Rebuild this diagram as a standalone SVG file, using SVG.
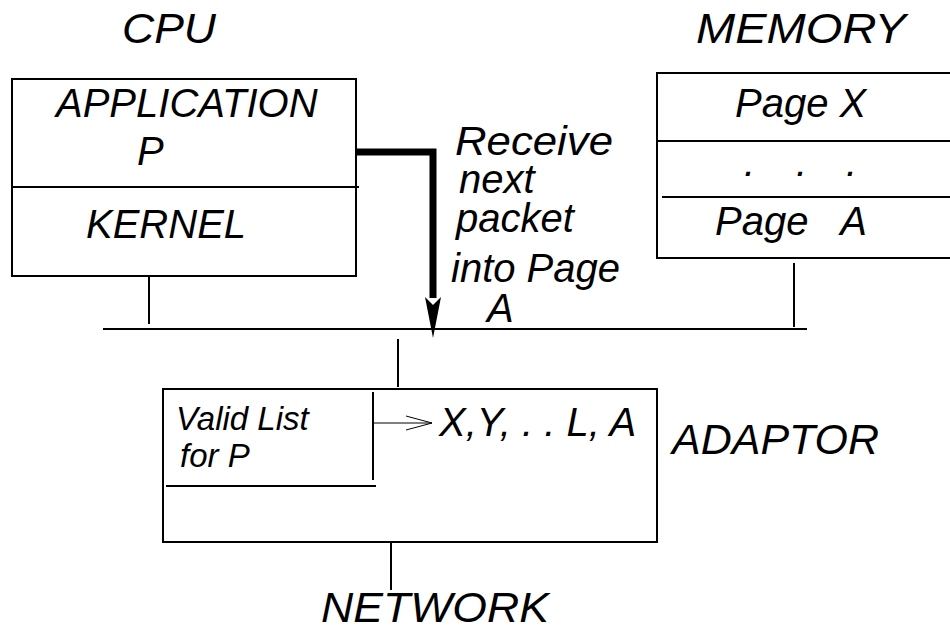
<svg xmlns="http://www.w3.org/2000/svg" width="950" height="630" viewBox="0 0 950 630">
  <style>
    .t { font-family: "Liberation Sans", Arial, sans-serif; font-style: italic; fill: #000; }
    .big { font-size: 43px; }
    .mid { font-size: 40px; }
    .sm { font-size: 33px; }
    .ln { stroke: #000; stroke-width: 2; fill: none; }
    .thin { stroke: #000; stroke-width: 1; fill: none; }
  </style>
  <rect width="950" height="630" fill="#fff"/>

  <!-- headings -->
  <text class="t big" x="122" y="43" textLength="94" lengthAdjust="spacingAndGlyphs">CPU</text>
  <text class="t big" x="696" y="43" textLength="210" lengthAdjust="spacingAndGlyphs">MEMORY</text>

  <g id="cpu">
    <rect class="ln" x="12" y="79" width="344" height="197"/>
    <line class="ln" x1="12" y1="187" x2="359" y2="187"/>
    <text class="t mid" x="56" y="117">APPLICATION</text>
    <text class="t mid" x="137" y="165">P</text>
    <text class="t mid" x="86" y="238">KERNEL</text>
  </g>

  <g id="memory">
    <path class="ln" d="M950,73 H657 V258 H950"/>
    <line class="ln" x1="657" y1="141" x2="950" y2="141"/>
    <line class="ln" x1="662" y1="197" x2="950" y2="197"/>
    <text class="t mid" x="735" y="117">Page X</text>
    <text class="t mid" x="744" y="176">.</text>
    <text class="t mid" x="796" y="176">.</text>
    <text class="t mid" x="846" y="176">.</text>
    <text class="t mid" x="715" y="235" xml:space="preserve">Page   A</text>
  </g>

  <g id="bus">
    <line class="ln" x1="103" y1="329" x2="807" y2="329"/>
  </g>

  <g id="adaptor">
    <rect class="ln" x="163" y="389" width="494" height="153"/>
    <line class="ln" x1="373" y1="392" x2="373" y2="480"/>
    <line class="ln" x1="166" y1="486" x2="376" y2="486"/>
    <text class="t sm" x="176" y="430">Valid List</text>
    <text class="t sm" x="180" y="467">for P</text>
    <text class="t mid" x="439" y="436">X,Y, . . L, A</text>
  </g>

  <text class="t big" x="672" y="454">ADAPTOR</text>
  <text class="t big" x="321" y="622" textLength="228" lengthAdjust="spacingAndGlyphs">NETWORK</text>

  <!-- label of the receive request -->
  <g id="receive-label">
    <text class="t mid" x="455" y="155" textLength="158" lengthAdjust="spacingAndGlyphs">Receive</text>
    <text class="t mid" x="459" y="193">next</text>
    <text class="t mid" x="456" y="232">packet</text>
    <text class="t mid" x="451" y="282">into Page</text>
    <text class="t mid" x="487" y="322">A</text>
  </g>

  <g id="connectors">
    <!-- stems onto the bus -->
    <line class="ln" x1="149" y1="276" x2="149" y2="324"/>
    <line class="ln" x1="794" y1="263" x2="794" y2="327"/>
    <line class="ln" x1="398" y1="339" x2="398" y2="387"/>
    <line class="ln" x1="391" y1="542" x2="391" y2="590"/>
    <!-- receive request from the application -->
    <path d="M357,152 H433 V298" stroke="#000" stroke-width="7" fill="none" stroke-linejoin="miter"/>
    <path d="M425,297 L433,305 L441,297 L433,338 Z" fill="#000"/>
    <!-- valid list pointer -->
    <line class="thin" x1="373" y1="423" x2="432" y2="423"/>
    <polyline class="thin" points="406,416 432,423 406,430"/>
  </g>
</svg>
